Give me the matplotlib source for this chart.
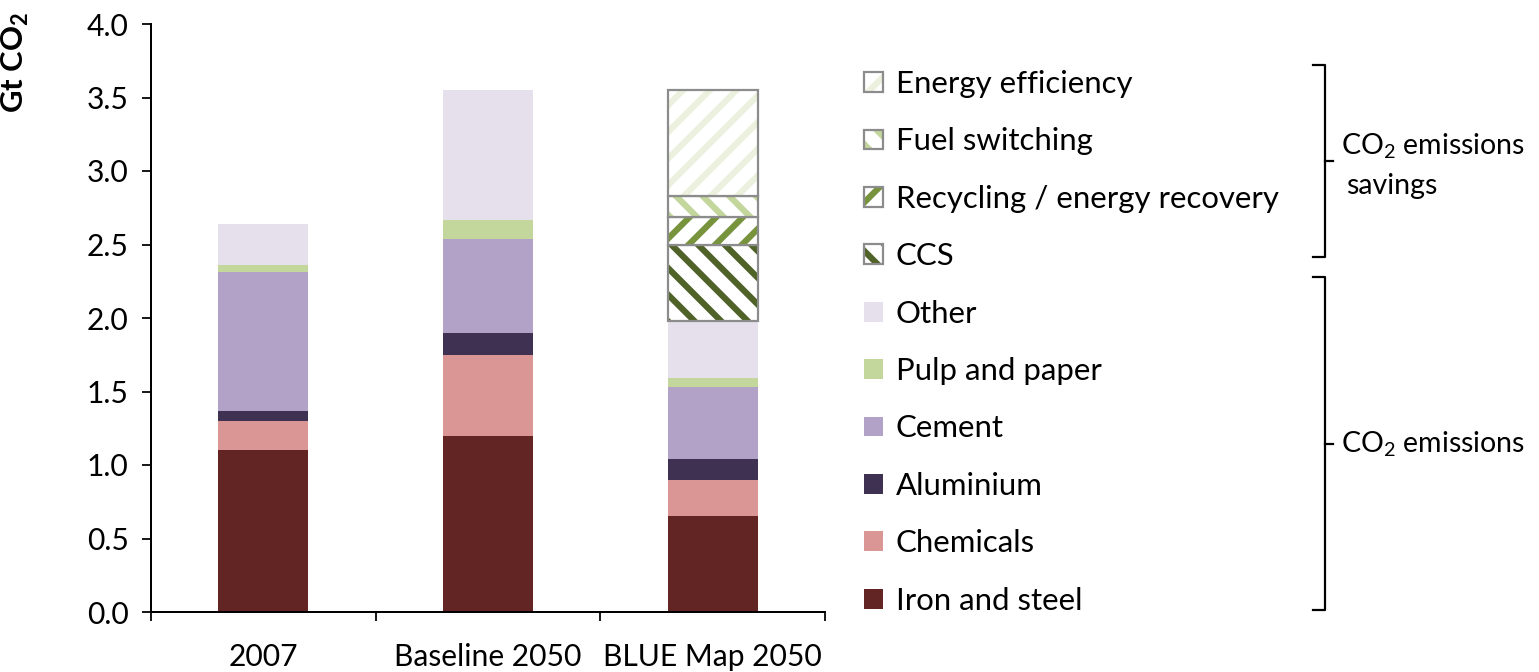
import matplotlib
matplotlib.use("Agg")
import matplotlib.pyplot as plt
from matplotlib.patches import Patch
from matplotlib.lines import Line2D
import numpy as np

plt.rcParams['font.family'] = ['Lato', 'DejaVu Sans']
plt.rcParams['mathtext.fontset'] = 'custom'
plt.rcParams['mathtext.rm'] = 'Lato'
plt.rcParams['mathtext.bf'] = 'Lato:bold'
plt.rcParams['hatch.linewidth'] = 2.8

categories = ["2007", "Baseline 2050", "BLUE Map 2050"]
emission_series = ["Iron and steel", "Chemicals", "Aluminium", "Cement", "Pulp and paper", "Other"]
iron_steel = [1.10, 1.20, 0.65]
chemicals = [0.20, 0.55, 0.25]
aluminium = [0.07, 0.15, 0.14]
cement = [0.94, 0.64, 0.49]
pulp_paper = [0.05, 0.13, 0.06]
other = [0.28, 0.88, 0.39]

saving_series = ["CCS", "Recycling / energy recovery", "Fuel switching", "Energy efficiency"]
ccs = [0, 0, 0.52]
recycling = [0, 0, 0.19]
fuel_switching = [0, 0, 0.14]
energy_efficiency = [0, 0, 0.72]

emission_colors = ["#632523", "#D99694", "#3F3151", "#B3A2C7", "#C3D69B", "#E6E0EC"]
saving_colors = ["#4F6228", "#77933C", "#C3D69B", "#EBF1DE"]
saving_hatches = ["\\\\", "//", "\\\\", "//"]

DPI = 160
fig = plt.figure(figsize=(1539 / DPI, 672 / DPI), dpi=DPI)
ax = fig.add_axes([151 / 1539, 1 - 612 / 672, (825 - 151) / 1539, (612 - 24) / 672])

x = np.arange(len(categories))
width = 0.4
bottom = np.zeros(len(categories))
handles = {}
for name, vals, col in zip(emission_series, [iron_steel, chemicals, aluminium, cement, pulp_paper, other], emission_colors):
    vals = np.array(vals)
    ax.bar(x, vals, width, bottom=bottom, color=col, linewidth=0)
    handles[name] = Patch(facecolor=col, linewidth=0)
    bottom += vals

for name, vals, col, h in zip(saving_series, [ccs, recycling, fuel_switching, energy_efficiency], saving_colors, saving_hatches):
    vals = np.array(vals)
    mask = vals > 0
    ax.bar(x[mask], vals[mask], width, bottom=bottom[mask], facecolor='white', edgecolor=col,
           hatch=h, linewidth=0)
    ax.bar(x[mask], vals[mask], width, bottom=bottom[mask], facecolor='none', edgecolor='#8C8C8C',
           linewidth=1.0)
    handles[name] = (Patch(facecolor='white', edgecolor=col, hatch=h, linewidth=0),
                     Patch(facecolor='none', edgecolor='#8C8C8C', linewidth=1.0))
    bottom += vals

ax.set_xlim(-0.5, 2.5)
ax.set_ylim(0, 4.0)
ticks = np.arange(0, 4.01, 0.5)
ax.set_yticks(ticks)
ax.set_yticklabels([f"{v:.1f}" for v in ticks], fontsize=13.5)
ax.set_xticks(x)
ax.set_xticklabels(categories, fontsize=13.5)
ax.set_xticks([-0.5, 0.5, 1.5, 2.5], minor=True)
ax.tick_params(axis='x', which='major', length=0, pad=14)
ax.tick_params(axis='x', which='minor', length=4, width=0.8, direction='out')
ax.tick_params(axis='y', length=4, width=0.8, direction='out', pad=6)
for s in ['top', 'right']:
    ax.spines[s].set_visible(False)
for s in ['left', 'bottom']:
    ax.spines[s].set_linewidth(0.9)

ax.set_ylabel(r'Gt CO$_\mathbf{2}$', fontsize=14, fontweight='bold')
ax.yaxis.set_label_coords(-0.178, 0.935)

order = ["Energy efficiency", "Fuel switching", "Recycling / energy recovery", "CCS",
         "Other", "Pulp and paper", "Cement", "Aluminium", "Chemicals", "Iron and steel"]
leg = fig.legend([handles[n] for n in order], order, loc='upper left',
                 bbox_to_anchor=(864 / 1539, 1 - 70 / 672), frameon=False, fontsize=14,
                 handlelength=0.6, handleheight=0.6, handletextpad=0.42,
                 labelspacing=0.945, borderpad=0, borderaxespad=0)

# brackets
def fx(px):
    return px / 1539
def fy(py):
    return 1 - py / 672

def bracket(y0, y1, xv=1325, xl=1313, xr=1333):
    ym = (y0 + y1) / 2
    kw = dict(color='black', linewidth=1.0, transform=fig.transFigure)
    fig.add_artist(Line2D([fx(xl), fx(xv), fx(xv), fx(xl)], [fy(y0), fy(y0), fy(y1), fy(y1)], **kw))
    fig.add_artist(Line2D([fx(xv), fx(xr)], [fy(ym), fy(ym)], **kw))

bracket(65, 257)
bracket(277, 610)
fig.text(fx(1341), fy(146), r'CO$_2$ emissions', fontsize=12.8, va='center', ha='left')
fig.text(fx(1346), fy(186), 'savings', fontsize=12.8, va='center', ha='left')
fig.text(fx(1341), fy(444), r'CO$_2$ emissions', fontsize=12.8, va='center', ha='left')

fig.savefig("out.png", dpi=DPI)
